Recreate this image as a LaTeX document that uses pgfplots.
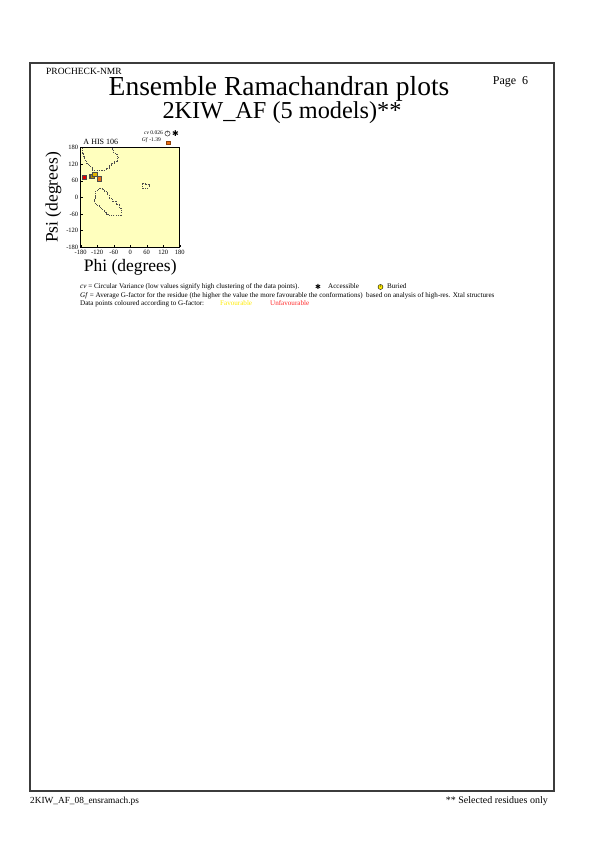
\documentclass[border=0pt]{standalone}
\usepackage{pgfplots}
\pgfplotsset{compat=1.18}
\usepackage{fontspec}
\setmainfont{Liberation Serif}
\newfontfamily\dejavu{DejaVu Sans}
\definecolor{ramabg}{RGB}{255,255,190}
\definecolor{frame}{RGB}{60,60,60}
\definecolor{mred}{RGB}{225,0,0}
\definecolor{molive}{RGB}{175,140,0}
\definecolor{mgold}{RGB}{225,180,0}
\definecolor{morange}{RGB}{235,110,20}
\definecolor{favyellow}{RGB}{255,235,0}
\definecolor{unfavred}{RGB}{255,40,40}
\newcommand{\fs}[1]{\fontsize{#1bp}{#1bp}\selectfont}
\begin{document}
\begin{tikzpicture}
\path (0,0) rectangle (595bp,842bp);
\begin{scope}[yshift=842bp, x=1bp, y=-1bp]
\draw[line width=1.3bp, frame] (30,63) rectangle (554,791);
\node[anchor=base west, inner sep=0] at (46,75) {\fs{9.5}PROCHECK-NMR};
\node[anchor=base, inner sep=0] at (279,96) {\fs{27.5}Ensemble Ramachandran plots};
\node[anchor=base, inner sep=0] at (282,119) {\fs{24.3}2KIW\_AF (5 models)**};
\node[anchor=base west, inner sep=0] at (492.7,85) {\fs{12}Page\ \ 6};
\node[anchor=base west, inner sep=0] at (83.3,144.3) {\fs{8}A HIS 106};
\node[anchor=base east, inner sep=0] at (163,135) {\fs{5.5}\textit{cv} 0.026};
\node[anchor=base east, inner sep=0] at (161,141.5) {\fs{5.5}\textit{Gf} -1.39};
\node[inner sep=0] at (167.5,133.5) {\tikz\draw[line width=0.4bp, fill=white] (0,0) circle (2.6bp) (0,0) -- (0,2.2bp);};
\node[inner sep=0] at (175.5,133.5) {\dejavu\fs{8}✱};
\node[inner sep=0] at (168,142.7) {\tikz\draw[line width=0.3bp, draw=morange!60!black, fill=morange] (0,0) rectangle (3.8bp,3.8bp);};
% explanation lines
\node[anchor=base west, inner sep=0] at (80,289) {\fs{7.1}\textit{cv} = Circular Variance (low values signify high clustering of the data points).};
\node[inner sep=0] at (318,287) {\dejavu\fs{7}✱};
\node[anchor=base west, inner sep=0] at (328,289) {\fs{7.1}Accessible};
\node[inner sep=0] at (380.5,287) {\tikz\draw[line width=0.4bp, fill=favyellow] (0,0) circle (2.5bp) (0,0) -- (0,2bp);};
\node[anchor=base west, inner sep=0] at (387,289) {\fs{7.1}Buried};
\node[anchor=base west, inner sep=0] at (80,297.5) {\fs{7.1}\textit{Gf} = Average G-factor for the residue (the higher the value the more favourable the conformations)\ \ based on analysis of high-res. Xtal structures};
\node[anchor=base west, inner sep=0] at (80,306) {\fs{7.1}Data points coloured according to G-factor:};
\node[anchor=base west, inner sep=0] at (220,306) {\fs{7.1}\textcolor{favyellow}{Favourable}};
\node[anchor=base west, inner sep=0] at (270,306) {\fs{7.1}\textcolor{unfavred}{Unfavourable}};
% footer
\node[anchor=base west, inner sep=0] at (30,804) {\fs{9.3}2KIW\_AF\_08\_ensramach.ps};
\node[anchor=base east, inner sep=0] at (548,804) {\fs{10}** Selected residues only};
\end{scope}
\begin{axis}[
  at={(80.7bp,594.8bp)}, anchor=south west,
  scale only axis, width=99bp, height=99.5bp,
  xmin=-180, xmax=180, ymin=-180, ymax=180,
  xtick={-180,-120,-60,0,60,120,180},
  ytick={-180,-120,-60,0,60,120,180},
  axis background/.style={fill=ramabg},
  axis line style={line width=0.6bp, black},
  tick style={line width=0.4bp, black},
  tick align=inside, major tick length=2.5bp,
  xtick pos=bottom, ytick pos=left,
  /pgf/number format/assume math mode=true,
  tick label style={font=\fs{6.5}},
  xticklabel style={yshift=1bp},
  yticklabel style={xshift=1bp},
  xlabel={Phi (degrees)}, ylabel={Psi (degrees)},
  xlabel style={font=\fs{17.5}, yshift=2bp},
  ylabel style={font=\fs{17.5}, yshift=-2bp},
  clip=true,
]
\addplot[black!70, line width=0.5bp, dash pattern=on 1.2bp off 1.2bp] coordinates {
(-173,180) (-173,160) (-170,160) (-170,148) (-166,148) (-166,136) (-160,136) (-160,124) (-152,124) (-152,116) (-144,116) (-144,108) (-138,108) (-138,100) (-88,100) (-88,106) (-76,106) (-76,115) (-68,115) (-68,124) (-58,124) (-58,132) (-48,132) (-48,142) (-43,142) (-43,150) (-48,150) (-48,156) (-54,156) (-54,163) (-62,163) (-62,170) (-67,170) (-67,180)};
\addplot[black!70, line width=0.5bp, dash pattern=on 1.2bp off 1.2bp] coordinates {
(-112,34) (-103,34) (-103,30) (-94,30) (-94,22) (-84,22) (-84,10) (-76,10) (-76,-2) (-64,-2) (-64,-14) (-52,-14) (-52,-26) (-40,-26) (-40,-38) (-34,-38) (-34,-65) (-76,-65) (-76,-60) (-88,-60) (-88,-52) (-96,-52) (-96,-44) (-104,-44) (-104,-36) (-112,-36) (-112,-30) (-124,-30) (-124,-20) (-132,-20) (-132,-8) (-128,-8) (-128,4) (-127,4) (-127,22) (-120,22) (-120,28) (-112,28) (-112,34)};
\addplot[black!70, line width=0.5bp, dash pattern=on 1.2bp off 1.2bp] coordinates {
(44,52) (54,52) (54,46) (68,46) (68,34) (44,34) (44,52)};
\addplot[only marks, mark=square*, mark size=2.2bp, mark options={fill=mred, draw=black!70, line width=0.3bp}] coordinates {(-168,74)};
\addplot[only marks, mark=square*, mark size=2.2bp, mark options={fill=molive, draw=black!70, line width=0.3bp}] coordinates {(-140,76) (-138,77)};
\addplot[only marks, mark=square*, mark size=2.2bp, mark options={fill=mgold, draw=black!70, line width=0.3bp}] coordinates {(-130,84)};
\addplot[only marks, mark=square*, mark size=2.2bp, mark options={fill=morange, draw=black!70, line width=0.3bp}] coordinates {(-112,68)};
\end{axis}
\end{tikzpicture}
\end{document}
